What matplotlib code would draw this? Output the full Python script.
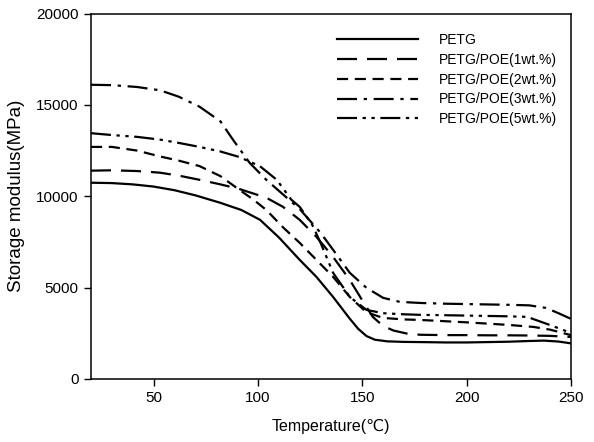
import matplotlib
matplotlib.use("Agg")
import matplotlib.pyplot as plt

plt.rcParams['font.family'] = ['Liberation Sans', 'DejaVu Sans']

# Temperature (°C) and storage modulus (MPa)
t_petg = [20, 30, 40, 50, 60, 70, 82, 92, 101, 110, 120, 128, 136, 144, 148, 152, 156, 162, 170, 178, 190, 200, 210, 220, 230, 237, 244, 250]
v_petg = [10740, 10720, 10650, 10530, 10330, 10050, 9640, 9250, 8710, 7750, 6520, 5590, 4490, 3300, 2750, 2350, 2150, 2060, 2030, 2020, 2000, 2000, 2020, 2040, 2080, 2100, 2050, 1950]

t_1wt = [20, 30, 42, 53, 62, 72, 82, 91, 104, 112, 120, 128, 136, 144, 150, 155, 160, 165, 172, 178, 190, 200, 210, 220, 230, 240, 250]
v_1wt = [11400, 11420, 11380, 11290, 11130, 10900, 10650, 10400, 9920, 9420, 8710, 7780, 6680, 5420, 4300, 3400, 2900, 2650, 2470, 2420, 2400, 2400, 2390, 2390, 2380, 2360, 2300]

t_2wt = [20, 30, 42, 53, 62, 72, 82, 91, 98, 104, 112, 120, 128, 136, 144, 152, 160, 170, 178, 190, 200, 210, 220, 232, 240, 245, 250]
v_2wt = [12700, 12700, 12500, 12180, 11950, 11650, 11100, 10360, 9800, 9250, 8300, 7450, 6520, 5590, 4490, 3650, 3340, 3260, 3230, 3160, 3100, 3030, 2960, 2850, 2700, 2550, 2400]

t_3wt = [20, 30, 42, 53, 62, 72, 82, 88, 96, 104, 112, 120, 130, 136, 144, 152, 160, 168, 178, 190, 200, 210, 220, 230, 238, 244, 250]
v_3wt = [16100, 16080, 15980, 15800, 15450, 14900, 14100, 13100, 11830, 10900, 10100, 9300, 8000, 7070, 5810, 4990, 4440, 4220, 4160, 4120, 4100, 4080, 4060, 4030, 3890, 3600, 3290]

t_5wt = [20, 30, 42, 53, 62, 72, 82, 91, 101, 109, 116, 120, 126, 130, 136, 141, 144, 152, 160, 170, 178, 190, 200, 210, 220, 229, 240, 250]
v_5wt = [13450, 13350, 13250, 13100, 12920, 12700, 12450, 12150, 11640, 10900, 9810, 9420, 8440, 7450, 5810, 4990, 4490, 3780, 3600, 3540, 3510, 3490, 3470, 3450, 3430, 3400, 2950, 2520]

labels = ['PETG', 'PETG/POE(1wt.%)', 'PETG/POE(2wt.%)', 'PETG/POE(3wt.%)', 'PETG/POE(5wt.%)']
x_ticks = [50, 100, 150, 200, 250]
y_ticks = [0, 5000, 10000, 15000, 20000]

fig = plt.figure(figsize=(5.94, 4.42), dpi=100)
ax = fig.add_axes([91/594, 1-379/442, (571-91)/594, (379-13.5)/442])

lw = 1.6
styles = [
    '-',
    (0, (9, 4.5)),
    (0, (5, 3)),
    (0, (9, 3, 1.5, 3)),
    (0, (9, 2.5, 1.5, 2.5, 1.5, 2.5)),
]
series = [(t_petg, v_petg), (t_1wt, v_1wt), (t_2wt, v_2wt), (t_3wt, v_3wt), (t_5wt, v_5wt)]
for (t, v), ls, lab in zip(series, styles, labels):
    ax.plot(t, v, color='black', linestyle=ls, linewidth=lw, label=lab)

ax.set_xlim(20, 250)
ax.set_ylim(0, 20000)
ax.set_xticks(x_ticks)
ax.set_yticks(y_ticks)
ax.tick_params(direction='out', length=5, width=1, labelsize=11, colors='black', pad=4)
for s in ax.spines.values():
    s.set_linewidth(1.1)
ax.set_xlabel('Temperature(℃)', fontsize=11.5, labelpad=10)
ax.set_ylabel('Storage modulus(MPa)', fontsize=13.5, labelpad=8)

leg = ax.legend(loc='upper left', bbox_to_anchor=(337/594, 1-33/442), bbox_transform=fig.transFigure,
                frameon=False, fontsize=10, handlelength=5.8, handletextpad=1.5,
                labelspacing=0.42, borderpad=0, borderaxespad=0)

fig.savefig('out.png', dpi=100)
